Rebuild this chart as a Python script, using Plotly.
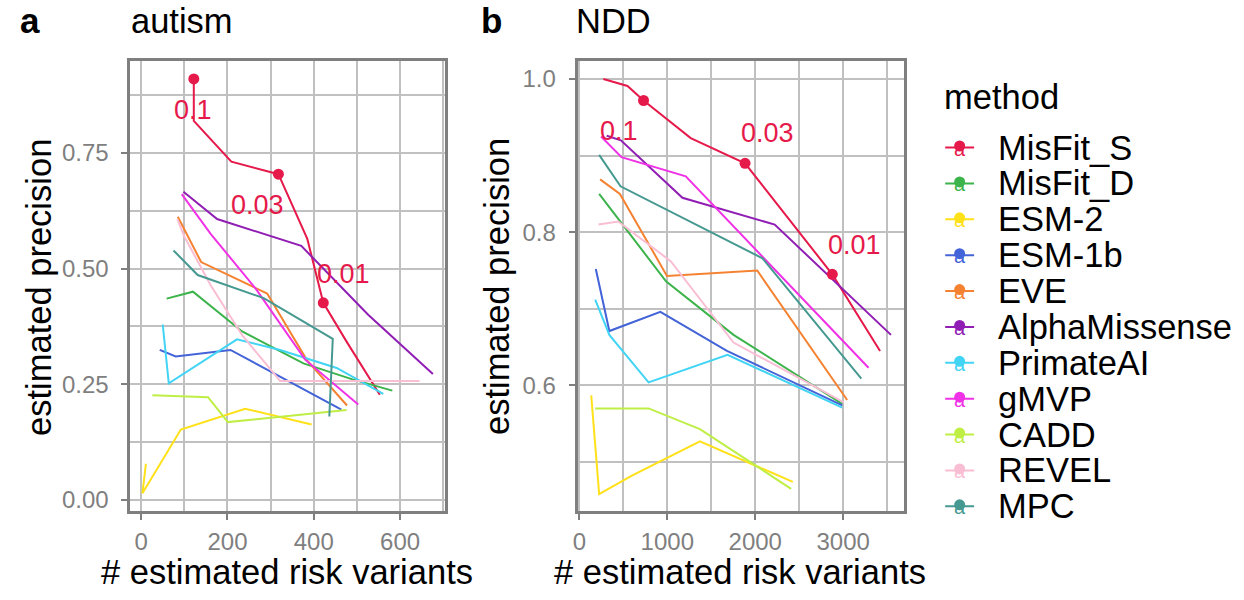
import plotly.graph_objects as go

FONT = "Liberation Sans"

methods = ["MisFit_S", "MisFit_D", "ESM-2", "ESM-1b", "EVE", "AlphaMissense",
           "PrimateAI", "gMVP", "CADD", "REVEL", "MPC"]
colors = ["#e6194b", "#3cb44b", "#ffe119", "#4363d8", "#f58231", "#911eb4",
          "#42d4f4", "#f032e6", "#bfef45", "#fabed4", "#469990"]

# ---- panel a: autism ----
autism_x = {
    "MisFit_S": [122, 122, 209, 318, 385, 422, 476, 553],
    "MisFit_D": [59, 120, 234, 376, 488, 582],
    "ESM-2": [11, 3, 92, 241, 395],
    "ESM-1b": [43, 80, 207, 322, 464],
    "EVE": [85, 139, 292, 384, 477],
    "AlphaMissense": [98, 176, 371, 526, 676],
    "PrimateAI": [50, 64, 222, 322, 453, 561],
    "gMVP": [94, 161, 265, 380, 503],
    "CADD": [26, 155, 201, 476],
    "REVEL": [84, 99, 161, 234, 322, 645],
    "MPC": [75, 131, 284, 444, 436],
}
autism_y = {
    "MisFit_S": [0.910, 0.819, 0.731, 0.704, 0.564, 0.426, 0.342, 0.227],
    "MisFit_D": [0.435, 0.450, 0.364, 0.295, 0.261, 0.236],
    "ESM-2": [0.078, 0.014, 0.152, 0.197, 0.163],
    "ESM-1b": [0.324, 0.310, 0.324, 0.267, 0.195],
    "EVE": [0.612, 0.514, 0.446, 0.302, 0.204],
    "AlphaMissense": [0.666, 0.607, 0.549, 0.400, 0.272],
    "PrimateAI": [0.379, 0.252, 0.347, 0.324, 0.285, 0.229],
    "gMVP": [0.661, 0.575, 0.457, 0.303, 0.206],
    "CADD": [0.226, 0.222, 0.168, 0.194],
    "REVEL": [0.607, 0.571, 0.464, 0.356, 0.257, 0.257],
    "MPC": [0.539, 0.486, 0.436, 0.348, 0.180],
}
autism_mark_x = [122, 318, 422]
autism_mark_y = [0.910, 0.704, 0.426]
autism_lab = ["0.1", "0.03", "0.01"]
autism_lab_x = [119, 270, 469]
autism_lab_y = [0.842, 0.637, 0.488]

# ---- panel b: NDD ----
ndd_x = {
    "MisFit_S": [273, 547, 730, 1266, 1884, 2876, 3419],
    "MisFit_D": [225, 985, 1753, 2989],
    "ESM-2": [135, 225, 592, 1371, 2427],
    "ESM-1b": [187, 341, 921, 1678, 2989],
    "EVE": [236, 461, 996, 2022, 3045],
    "AlphaMissense": [311, 472, 1172, 2221, 3543],
    "PrimateAI": [180, 341, 787, 1685, 2989],
    "gMVP": [247, 479, 1210, 3288],
    "CADD": [180, 787, 1371, 2408],
    "REVEL": [217, 442, 1041, 1753, 3007],
    "MPC": [225, 468, 2082, 3206],
}
ndd_y = {
    "MisFit_S": [1.000, 0.991, 0.972, 0.923, 0.890, 0.745, 0.645],
    "MisFit_D": [0.850, 0.736, 0.666, 0.576],
    "ESM-2": [0.587, 0.458, 0.482, 0.527, 0.474],
    "ESM-1b": [0.752, 0.671, 0.696, 0.645, 0.574],
    "EVE": [0.869, 0.850, 0.743, 0.750, 0.581],
    "AlphaMissense": [0.926, 0.920, 0.845, 0.810, 0.666],
    "PrimateAI": [0.712, 0.666, 0.604, 0.640, 0.571],
    "gMVP": [0.925, 0.898, 0.873, 0.623],
    "CADD": [0.570, 0.570, 0.543, 0.465],
    "REVEL": [0.810, 0.814, 0.762, 0.656, 0.578],
    "MPC": [0.901, 0.860, 0.766, 0.609],
}
ndd_mark_x = [730, 1884, 2876]
ndd_mark_y = [0.972, 0.890, 0.745]
ndd_lab = ["0.1", "0.03", "0.01"]
ndd_lab_x = [450, 2135, 3123]
ndd_lab_y = [0.932, 0.929, 0.783]

W, H = 1244, 600
RED = colors[0]

fig = go.Figure()
for m, c in zip(methods, colors):
    fig.add_trace(go.Scatter(x=autism_x[m], y=autism_y[m], mode="lines",
                             line=dict(color=c, width=2), xaxis="x", yaxis="y",
                             showlegend=False, hoverinfo="skip"))
    fig.add_trace(go.Scatter(x=ndd_x[m], y=ndd_y[m], mode="lines",
                             line=dict(color=c, width=2), xaxis="x2", yaxis="y2",
                             showlegend=False, hoverinfo="skip"))
fig.add_trace(go.Scatter(x=autism_mark_x, y=autism_mark_y, mode="markers",
                         marker=dict(color=RED, size=11), xaxis="x", yaxis="y",
                         showlegend=False))
fig.add_trace(go.Scatter(x=ndd_mark_x, y=ndd_mark_y, mode="markers",
                         marker=dict(color=RED, size=11), xaxis="x2", yaxis="y2",
                         showlegend=False))

annotations = []
for t, x, y in zip(autism_lab, autism_lab_x, autism_lab_y):
    annotations.append(dict(text=t, x=x, y=y, xref="x", yref="y", showarrow=False,
                            font=dict(family=FONT, size=27, color=RED)))
for t, x, y in zip(ndd_lab, ndd_lab_x, ndd_lab_y):
    annotations.append(dict(text=t, x=x, y=y, xref="x2", yref="y2", showarrow=False,
                            font=dict(family=FONT, size=27, color=RED)))

# ---- legend drawn on a hidden pixel-scaled axis ----
LEG_X0 = 920
leg_y0, leg_dy = 148, 36
for i, (m, c) in enumerate(zip(methods, colors)):
    yc = leg_y0 + i * leg_dy
    fig.add_trace(go.Scatter(x=[944, 973], y=[yc, yc], mode="lines",
                             line=dict(color=c, width=2), xaxis="x3", yaxis="y3",
                             showlegend=False, hoverinfo="skip"))
    fig.add_trace(go.Scatter(x=[958.5], y=[yc - 1.5], mode="markers",
                             marker=dict(color=c, size=11), xaxis="x3", yaxis="y3",
                             showlegend=False, hoverinfo="skip"))
    fig.add_trace(go.Scatter(x=[958.5], y=[yc + 3], mode="text", text=["a"],
                             textposition="middle center",
                             textfont=dict(family=FONT, size=20, color=c),
                             xaxis="x3", yaxis="y3", showlegend=False, hoverinfo="skip"))
    annotations.append(dict(text=m, x=995, y=yc, xref="x3", yref="y3", xanchor="left",
                            yanchor="middle", showarrow=False,
                            font=dict(family=FONT, size=34.5, color="black")))
annotations.append(dict(text="method", x=941, y=97, xref="x3", yref="y3", xanchor="left",
                        yanchor="middle", showarrow=False,
                        font=dict(family=FONT, size=34.5, color="black")))

def pyc(baseline, fs):
    # paper y of annotation box centre for a given text baseline (pixels from top)
    return (H - (baseline - 0.3465 * fs)) / H

annotations += [
    dict(text="<b>a</b>", x=13 / W, y=pyc(33, 35), xref="paper", yref="paper",
         xanchor="left", yanchor="middle", showarrow=False,
         font=dict(family=FONT, size=35, color="black")),
    dict(text="autism", x=125 / W, y=pyc(33, 34.5), xref="paper", yref="paper",
         xanchor="left", yanchor="middle", showarrow=False,
         font=dict(family=FONT, size=34.5, color="black")),
    dict(text="<b>b</b>", x=476 / W, y=pyc(33, 35), xref="paper", yref="paper",
         xanchor="left", yanchor="middle", showarrow=False,
         font=dict(family=FONT, size=35, color="black")),
    dict(text="NDD", x=571.5 / W, y=pyc(33, 34.5), xref="paper", yref="paper",
         xanchor="left", yanchor="middle", showarrow=False,
         font=dict(family=FONT, size=34.5, color="black")),
    dict(text="# estimated risk variants", x=283 / W, y=pyc(586, 34.5), xref="paper",
         yref="paper", xanchor="center", yanchor="middle", showarrow=False,
         font=dict(family=FONT, size=34.5, color="black")),
    dict(text="# estimated risk variants", x=737.5 / W, y=pyc(586, 34.5), xref="paper",
         yref="paper", xanchor="center", yanchor="middle", showarrow=False,
         font=dict(family=FONT, size=34.5, color="black")),
    dict(text="estimated precision", x=34 / W, y=(H - 288) / H, xref="paper",
         yref="paper", xanchor="center", yanchor="middle", textangle=-90,
         showarrow=False, font=dict(family=FONT, size=34.5, color="black")),
    dict(text="estimated precision", x=494 / W, y=(H - 288) / H, xref="paper",
         yref="paper", xanchor="center", yanchor="middle", textangle=-90,
         showarrow=False, font=dict(family=FONT, size=34.5, color="black")),
]

GRID = "#C0C0C0"
BORDER = "#7F7F7F"
TICKF = dict(family=FONT, size=24, color="#7F7F7F")

def axis(domain, rng, dtick, minor, fmt, anchor, standoff):
    return dict(domain=domain, range=rng, dtick=dtick, tick0=0, tickformat=fmt,
                showgrid=True, gridcolor=GRID, gridwidth=2,
                minor=dict(dtick=minor, tick0=0, showgrid=True, gridcolor=GRID,
                           gridwidth=2, ticks=""),
                showline=True, linecolor=BORDER, linewidth=3, mirror=True,
                ticks="outside", ticklen=6, tickwidth=2, tickcolor=BORDER,
                tickfont=TICKF, ticklabelstandoff=standoff, zeroline=False,
                anchor=anchor, fixedrange=True)

ydom = [(H - 512.5) / H, (H - 61.5) / H]
fig.update_layout(
    width=W, height=H,
    margin=dict(l=0, r=0, t=0, b=0, pad=0),
    paper_bgcolor="white", plot_bgcolor="white",
    xaxis=axis([126 / W, 441.5 / W], [-24.7, 703.4], 200, 100, "d", "y", 1),
    yaxis=axis(ydom, [-0.0237, 0.948], 0.25, 0.125, ".2f", "x", 8),
    xaxis2=axis([575 / W, 902.7 / W], [-19, 3692], 1000, 500, "d", "y2", 1),
    yaxis2=axis(ydom, [0.4363, 1.0232], 0.2, 0.1, ".1f", "x2", 8),
    xaxis3=dict(domain=[LEG_X0 / W, 1.0], range=[LEG_X0, W], visible=False,
                anchor="y3", fixedrange=True),
    yaxis3=dict(domain=[0, 1], range=[H, 0], visible=False, anchor="x3",
                fixedrange=True),
    annotations=annotations,
    font=dict(family=FONT),
)

fig.write_html("out.html")
